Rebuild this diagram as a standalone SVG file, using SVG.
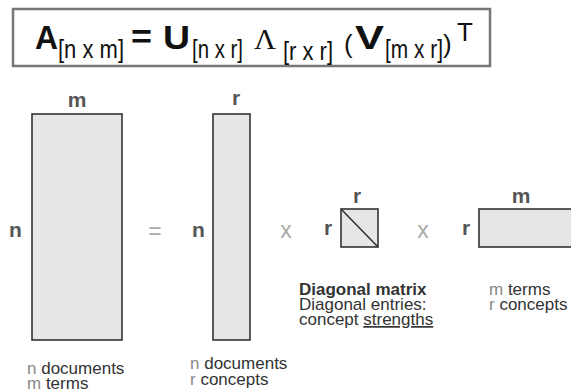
<svg xmlns="http://www.w3.org/2000/svg" width="571" height="392" viewBox="0 0 571 392">
<style>
.fb{font-family:"Liberation Sans",Arial,sans-serif;font-weight:bold;font-size:34px;fill:#111}
.sub{font-family:"Liberation Sans",Arial,sans-serif;font-size:26px;fill:#111}
.mat{fill:#e6e6e6;stroke:#333;stroke-width:1.6}
.lbl{font-family:"Liberation Sans",Arial,sans-serif;font-weight:bold;font-size:21px;fill:#555}
.op{font-family:"Liberation Sans",Arial,sans-serif;font-size:23px;fill:#aaa}
.t{font-family:"Liberation Sans",Arial,sans-serif;font-size:17px;fill:#333}
.g{fill:#888}
</style>
<rect width="571" height="392" fill="#fff"/>
<g id="formula">
<rect x="13" y="9" width="477" height="57" fill="#fff" stroke="#777" stroke-width="2.5"/>
<text class="fb" x="35" y="49" textLength="23" lengthAdjust="spacingAndGlyphs">A</text>
<text class="sub" x="58" y="58" textLength="66" lengthAdjust="spacingAndGlyphs">[n x m]</text>
<text class="fb" x="131" y="48" textLength="21" lengthAdjust="spacingAndGlyphs">=</text>
<text class="fb" x="163" y="49" textLength="27" lengthAdjust="spacingAndGlyphs">U</text>
<text class="sub" x="192" y="58" textLength="51" lengthAdjust="spacingAndGlyphs">[n x r]</text>
<text x="254" y="49" font-family="Liberation Serif,serif" font-size="30" fill="#111" textLength="22" lengthAdjust="spacingAndGlyphs">Λ</text>
<text class="sub" x="283" y="60" textLength="50" lengthAdjust="spacingAndGlyphs">[r x r]</text>
<text class="sub" x="344" y="53" font-size="34">(</text>
<text class="fb" x="355" y="49" textLength="29" lengthAdjust="spacingAndGlyphs">V</text>
<text class="sub" x="385" y="58" textLength="58" lengthAdjust="spacingAndGlyphs">[m x r]</text>
<text class="sub" x="443" y="53" font-size="34">)</text>
<text class="sub" x="457" y="41" font-size="20">T</text>
</g>
<g id="matrixA">
<rect class="mat" x="32" y="114" width="90" height="226"/>
<text class="lbl" x="77" y="107" text-anchor="middle">m</text>
<text class="lbl" x="9" y="237">n</text>
</g>
<text id="eq" class="op" x="155" y="239" text-anchor="middle">=</text>
<g id="matrixU">
<rect class="mat" x="213" y="114" width="37" height="226"/>
<text class="lbl" x="236" y="105" text-anchor="middle">r</text>
<text class="lbl" x="192" y="237">n</text>
</g>
<text id="x1" class="op" x="286" y="238" text-anchor="middle">x</text>
<g id="matrixL">
<rect class="mat" x="341" y="209" width="37" height="38"/>
<line x1="341" y1="209" x2="378" y2="247" stroke="#333" stroke-width="1.6"/>
<text class="lbl" x="357" y="203" text-anchor="middle">r</text>
<text class="lbl" x="324" y="235">r</text>
</g>
<text id="x2" class="op" x="423" y="238" text-anchor="middle">x</text>
<g id="matrixV">
<rect class="mat" x="479" y="209" width="100" height="38"/>
<text class="lbl" x="521" y="203" text-anchor="middle">m</text>
<text class="lbl" x="462" y="235">r</text>
</g>
<g id="captionA">
<text class="t" x="27" y="374"><tspan class="g">n</tspan> documents</text>
<text class="t" x="27" y="389"><tspan class="g">m</tspan> terms</text>
</g>
<g id="captionU">
<text class="t" x="190" y="369"><tspan class="g">n</tspan> documents</text>
<text class="t" x="190" y="385"><tspan class="g">r</tspan> concepts</text>
</g>
<g id="captionL">
<text class="t" x="299" y="295" font-weight="bold" fill="#111">Diagonal matrix</text>
<text class="t" x="299" y="310">Diagonal entries:</text>
<text class="t" x="299" y="325">concept <tspan text-decoration="underline">strengths</tspan></text>
</g>
<g id="captionV">
<text class="t" x="489" y="295"><tspan class="g">m</tspan> terms</text>
<text class="t" x="489" y="310"><tspan class="g">r</tspan> concepts</text>
</g>
</svg>
